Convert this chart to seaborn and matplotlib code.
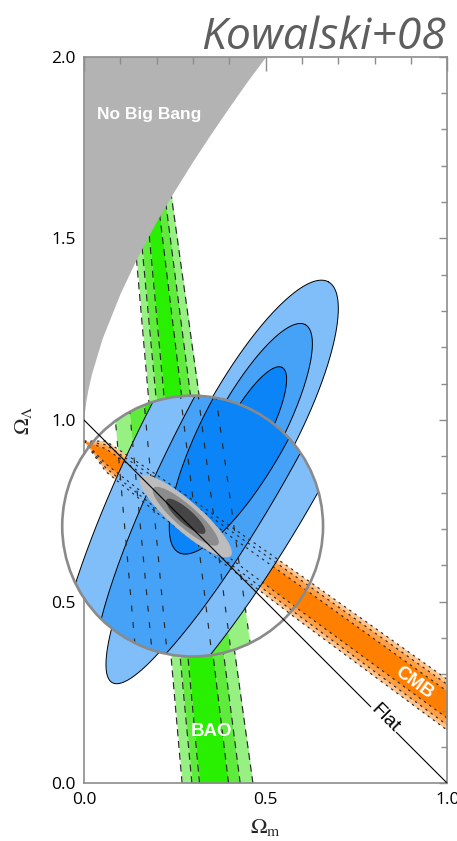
import numpy as np
import matplotlib
matplotlib.use("Agg")
import matplotlib.pyplot as plt
from matplotlib.patches import Circle
import seaborn as sns

# ---------------- values ----------------
# "No Big Bang" boundary
nbb_om = [0.0, 0.001, 0.005, 0.01, 0.02, 0.05, 0.10, 0.15, 0.20, 0.25, 0.30, 0.35, 0.40, 0.45, 0.50]
nbb_ol = [1.0, 1.019, 1.05, 1.08, 1.125, 1.225, 1.350, 1.455, 1.548, 1.633, 1.713, 1.789, 1.862, 1.933, 2.0]

# BAO band: 6 contour boundaries (3s,2s,1s | 1s,2s,3s) at Omega_L = 0 and 1.7
bao_y = [0.0, 1.7]
bao_x_bottom = [0.270, 0.297, 0.318, 0.398, 0.430, 0.465]
bao_x_top = [0.122, 0.139, 0.162, 0.192, 0.212, 0.229]

# CMB band: centre line and half widths
cmb_x = [0.0, 0.06, 0.2, 0.6, 1.0]
cmb_mid = [0.942, 0.900, 0.797, 0.506, 0.216]
cmb_hw_3s = [0.0, 0.042, 0.052, 0.064, 0.070]
cmb_hw_2s = [0.0, 0.032, 0.041, 0.051, 0.056]
cmb_hw_1s = [0.0, 0.021, 0.027, 0.034, 0.037]

# SN contours (3s, 2s, 1s): centre, axis direction, semi-axes
sn_center = [0.445, 0.958]
sn_axis = [0.474, 0.880]
sn_b = [0.131, 0.094, 0.058]
sn_apos = [0.480, 0.346, 0.212]
sn_aneg = [0.774, 0.558, 0.342]

# magnified view inside the circle
mag_center = [0.299, 0.708]
mag_radius = 0.359
bao_mag = 1.9
bao_mag_shift = -0.015
sn_zoom_center = [0.455, 0.996]
sn_zoom_b = [0.260, 0.165, 0.118]
sn_zoom_apos = [1.10, 0.90, 0.45]
sn_zoom_aneg = [1.05, 0.85, 0.41]

# combined SN+BAO+CMB (3s, 2s, 1s)
comb_center = [0.280, 0.735]
comb_axis = [0.7515, -0.6597]
comb_a = [0.165, 0.118, 0.070]
comb_b = [0.041, 0.030, 0.020]

# flat universe line
flat_om = [0.0, 1.0]
flat_ol = [1.0, 0.0]

x_major = [0.0, 0.5, 1.0]
x_minor = [0.1, 0.2, 0.3, 0.4, 0.6, 0.7, 0.8, 0.9]
y_major = [0.0, 0.5, 1.0, 1.5, 2.0]
y_minor = [0.1, 0.2, 0.3, 0.4, 0.6, 0.7, 0.8, 0.9, 1.1, 1.2, 1.3, 1.4, 1.6, 1.7, 1.8, 1.9]

sn_colors = ['#80befa', '#45a2f7', '#0b84f7']
bao_colors = ['#96f082', '#5feb3c', '#28f000', '#5feb3c', '#96f082']
cmb_colors = ['#ffc38c', '#ffa046', '#ff8000']
comb_colors = ['#bdbdbd', '#8c8c8c', '#454545']

# ---------------- style ----------------
sns.set_theme(style="white")
plt.rcParams['font.family'] = ['Open Sans', 'DejaVu Sans']
plt.rcParams['mathtext.fontset'] = 'stix'

fig = plt.figure(figsize=(4.57, 8.41), dpi=100)
ax = fig.add_axes([84 / 457, (841 - 783.3) / 841, 363.3 / 457, 726.6 / 841])
ax.set_xlim(0, 1)
ax.set_ylim(0, 2)


def aellipse(c, d, apos, aneg, b, n=300):
    t = np.linspace(0, 2 * np.pi, n)
    ct, st = np.cos(t), np.sin(t)
    along = np.where(ct >= 0, apos * ct, aneg * ct)
    perp = b * st
    return c[0] + along * d[0] - perp * d[1], c[1] + along * d[1] + perp * d[0]


def draw_bao(xb, xt, ys, z, dash):
    arts = []
    for i in range(5):
        arts.append(ax.fill_betweenx(ys, [xb[i], xt[i]], [xb[i + 1], xt[i + 1]],
                                     color=bao_colors[i], lw=0, zorder=z))
    lines = []
    for i in range(6):
        lines += ax.plot([xb[i], xt[i]], ys, color='#2a2a2a', lw=0.85,
                         ls=(0, dash), zorder=z + 2)
    return arts, lines


def draw_cmb(z):
    mid = np.array(cmb_mid)
    arts = []
    for hw, col in zip([cmb_hw_3s, cmb_hw_2s, cmb_hw_1s], cmb_colors):
        hw = np.array(hw)
        arts.append(ax.fill_between(cmb_x, mid - hw, mid + hw, color=col, lw=0, zorder=z))
    lines = []
    for hw in [cmb_hw_3s, cmb_hw_2s, cmb_hw_1s]:
        hw = np.array(hw)
        for s in (-1, 1):
            lines += ax.plot(cmb_x, mid + s * hw, color='#2a2a2a', lw=0.85,
                             ls=(0, (2, 3.5)), zorder=z + 2)
    return arts, lines


def draw_sn(c, bs, aps, ans, z):
    arts = []
    for b, ap, an, col in zip(bs, aps, ans, sn_colors):
        xs, ys = aellipse(c, sn_axis, ap, an, b)
        arts += ax.fill(xs, ys, color=col, lw=0, zorder=z)
        arts += ax.plot(xs, ys, color='black', lw=0.7, zorder=z + 0.1)
    return arts


# ---------------- main (unmagnified) layer ----------------
draw_bao(bao_x_bottom, bao_x_top, bao_y, 2, (6, 4))
draw_cmb(3)
draw_sn(sn_center, sn_b, sn_apos, sn_aneg, 4)
ax.fill_between(nbb_om, nbb_ol, 2.0, color='#b3b3b3', lw=0, zorder=5.5)

# ---------------- magnified circle ----------------
circ_bg = Circle(mag_center, mag_radius, facecolor='white', edgecolor='none',
                 zorder=10, clip_on=False)
ax.add_patch(circ_bg)

inner = []
cx, cy = mag_center
xb_in = [cx + bao_mag * (v - cx) + bao_mag_shift for v in bao_x_bottom]
xt_in = [cx + bao_mag * (v - cx) + bao_mag_shift for v in bao_x_top]
y_in = [cy + bao_mag * (v - cy) for v in bao_y]
b_f, b_l = draw_bao(xb_in, xt_in, y_in, 11, (5, 9))
c_f, c_l = draw_cmb(11.2)
inner += b_f + c_f
inner += draw_sn(sn_zoom_center, sn_zoom_b, sn_zoom_apos, sn_zoom_aneg, 12)
for ln in b_l + c_l:
    ln.set_zorder(13)
inner += b_l + c_l
for a, b, col in zip(comb_a, comb_b, comb_colors):
    xs, ys = aellipse(comb_center, comb_axis, a, a, b)
    inner += ax.fill(xs, ys, color=col, lw=0, zorder=14)
for art in inner:
    art.set_clip_box(None)
    art.set_clip_path(circ_bg)

ax.add_patch(Circle(mag_center, mag_radius, fill=False, edgecolor='#8a8a8a',
                    lw=1.9, zorder=15, clip_on=False))

# flat line
sns.lineplot(x=flat_om, y=flat_ol, color='black', lw=0.8, zorder=16, ax=ax)

# ---------------- labels ----------------
ax.text(0.036, 1.84, 'No Big Bang', color='white', fontsize=12.5, fontweight='bold',
        family='Liberation Sans', ha='left', va='center', zorder=7)
ax.text(0.352, 0.142, 'BAO', color='white', fontsize=13.5, fontweight='bold',
        family='Liberation Sans', ha='center', va='center', zorder=7)
ax.text(0.908, 0.277, 'CMB', color='white', fontsize=13.5, fontweight='bold',
        family='Liberation Sans', ha='center', va='center', rotation=-36,
        rotation_mode='anchor', zorder=7)
ax.text(0.829, 0.180, 'Flat', color='black', fontsize=14, family='Liberation Sans',
        ha='center', va='center', rotation=-45, rotation_mode='anchor', zorder=17,
        bbox=dict(facecolor='white', edgecolor='none', pad=1.0))

fig.text(0.976, 0.942, 'Kowalski+08', ha='right', va='baseline', fontsize=32,
         style='italic', color='#5e5e5e', family='Open Sans')

# ---------------- axes ----------------
ax.set_xticks(x_major)
ax.set_xticks(x_minor, minor=True)
ax.set_yticks(y_major)
ax.set_yticks(y_minor, minor=True)
ax.set_xticklabels(['0.0', '0.5', '1.0'])
ax.set_yticklabels(['0.0', '0.5', '1.0', '1.5', '2.0'])
ax.tick_params(which='both', direction='in', top=True, right=True, color='#8c8c8c',
               width=1.0, labelsize=12.5, labelcolor='black')
ax.tick_params(axis='x', which='major', length=10, pad=6)
ax.tick_params(axis='x', which='minor', length=5)
ax.tick_params(axis='y', which='major', length=6, pad=6)
ax.tick_params(axis='y', which='minor', length=4)
for s in ax.spines.values():
    s.set_color('#8c8c8c')
    s.set_linewidth(1.2)
    s.set_zorder(9)
ax.xaxis.set_zorder(9)
ax.yaxis.set_zorder(9)
ax.set_xlabel(r'$\Omega_{\mathrm{m}}$', fontsize=16, labelpad=7)
ax.set_ylabel(r'$\Omega_{\Lambda}$', fontsize=16, labelpad=12)
ax.grid(False)

fig.savefig('out.png', dpi=100)
